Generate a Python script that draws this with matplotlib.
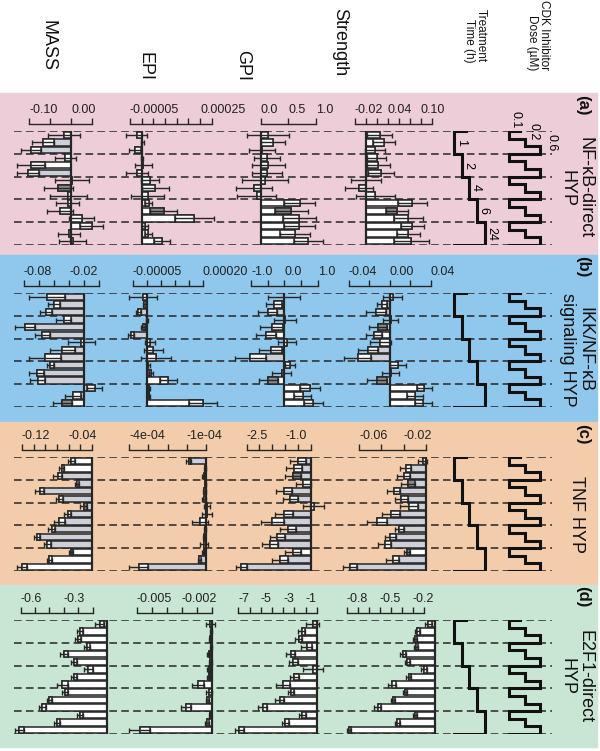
import numpy as np
import matplotlib
matplotlib.use("Agg")
import matplotlib.pyplot as plt
from matplotlib.patches import Rectangle

plt.rcParams['font.family'] = ['Liberation Sans', 'DejaVu Sans']

W, H = 600, 751

# experimental design: 5 treatment times x 3 inhibitor doses
times = [1, 1, 1, 2, 2, 2, 4, 4, 4, 6, 6, 6, 24, 24, 24]
doses = [0.1, 0.2, 0.6] * 5
time_levels = [1, 2, 4, 6, 24]
dose_levels = [0.1, 0.2, 0.6]

columns = ["MASS", "EPI", "GPI", "Strength"]
panel_names = ["NF-\u03baB-direct\nHYP", "IKK/NF-\u03baB\nsignaling HYP", "TNF HYP", "E2F1-direct\nHYP"]
panel_tags = ["(a)", "(b)", "(c)", "(d)"]
panel_colors = ["#eccdd8", "#8fc8ec", "#f3cdab", "#c9e6d4"]

# fill codes: w = white bar, g = grey bar, d = white bar/dark box, k = grey bar/dark box
# ---- (a) NF-kB-direct HYP
a_mass = [-0.016, -0.067, -0.096, -0.014, -0.096, -0.102, 0.002, -0.030, -0.006, -0.008, -0.026, 0.025, 0.049, -0.005, 0.004]
a_mass_err = [0.038, 0.026, 0.024, 0.025, 0.033, 0.026, 0.040, 0.034, 0.044, 0.028, 0.030, 0.029, 0.028, 0.027, 0.032]
a_mass_fill = "ggggwggkwwgwwwg"
a_epi = [-2.2e-5, 0.3e-5, -2.9e-5, 0.2e-5, 0.7e-5, -1.9e-5, 3.6e-5, 5.8e-5, 2.5e-5, 3.0e-5, 9.4e-5, 22.4e-5, 1.4e-5, 2.9e-5, 8.7e-5]
a_epi_err = [4.5e-5, 0.8e-5, 2.5e-5, 0.5e-5, 3.6e-5, 4.8e-5, 3.8e-5, 5.7e-5, 7.0e-5, 1.5e-5, 5.8e-5, 8.3e-5, 1.2e-5, 1.5e-5, 3.3e-5]
a_epi_fill = "gggwwgwwgwdwwww"
a_gpi = [0.14, 0.22, 0.02, 0.11, 0.14, 0.11, 0.08, -0.12, -0.07, 0.71, 0.55, 0.70, 0.70, 0.62, 0.86]
a_gpi_err = [0.38, 0.22, 0.24, 0.24, 0.30, 0.27, 0.42, 0.32, 0.35, 0.28, 0.30, 0.30, 0.28, 0.28, 0.26]
a_gpi_fill = "gwgwwwwggwdwwww"
a_str = [0.026, 0.033, 0.017, 0.020, 0.023, 0.028, 0.001, -0.012, 0.018, 0.085, 0.057, 0.078, 0.085, 0.078, 0.083]
a_str_err = [0.023, 0.020, 0.018, 0.017, 0.021, 0.023, 0.028, 0.026, 0.035, 0.026, 0.020, 0.027, 0.021, 0.021, 0.032]
a_str_fill = "gwgwwwgggwdwwww"

# ---- (b) IKK/NF-kB signaling HYP
b_mass = [-0.050, -0.040, -0.051, -0.027, -0.079, -0.056, -0.004, -0.029, -0.052, -0.045, -0.063, -0.062, 0.014, -0.015, -0.029]
b_mass_err = [0.024, 0.008, 0.008, 0.010, 0.013, 0.010, 0.018, 0.016, 0.021, 0.005, 0.010, 0.010, 0.010, 0.011, 0.013]
b_mass_fill = "ggggggwgggggggd"
b_epi = [-1.2e-5, -0.9e-5, -3.0e-5, 0.1e-5, -1.4e-5, -5.7e-5, 1.2e-5, 2.4e-5, 3.2e-5, 0.6e-5, 1.6e-5, 7.7e-5, 0.7e-5, 0.7e-5, 20.2e-5]
b_epi_err = [5.0e-5, 0.5e-5, 1.0e-5, 0.3e-5, 0.7e-5, 1.0e-5, 1.8e-5, 3.3e-5, 5.4e-5, 0.4e-5, 0.8e-5, 3.0e-5, 0.4e-5, 0.4e-5, 5.0e-5]
b_epi_fill = "gggkggwwwwwwwww"
b_gpi = [-0.02, -0.31, -0.50, 0.01, -0.38, -0.55, 0.07, -0.41, -1.02, 0.17, -0.08, -0.48, 0.78, 0.55, 0.87]
b_gpi_err = [0.48, 0.23, 0.28, 0.33, 0.35, 0.30, 0.27, 0.35, 0.47, 0.15, 0.29, 0.29, 0.30, 0.25, 0.28]
b_gpi_fill = "gggggwwggwgdwww"
b_str = [0.003, -0.007, -0.013, 0.001, -0.011, -0.015, -0.009, -0.021, -0.031, 0.008, 0.001, -0.012, 0.034, 0.025, 0.033]
b_str_err = [0.009, 0.005, 0.010, 0.007, 0.009, 0.008, 0.010, 0.010, 0.013, 0.008, 0.008, 0.010, 0.007, 0.008, 0.008]
b_str_fill = "wgggdwgggwgdwww"

# ---- (c) TNF HYP
c_mass = [-0.036, -0.052, -0.059, -0.026, -0.090, -0.056, -0.014, -0.042, -0.056, -0.069, -0.095, -0.077, -0.036, -0.073, -0.120]
c_mass_err = [0.006, 0.004, 0.008, 0.004, 0.008, 0.006, 0.006, 0.006, 0.009, 0.006, 0.005, 0.006, 0.004, 0.004, 0.008]
c_mass_fill = "wwggggkgggggdww"
c_epi = [-0.9e-4, -0.05e-4, -0.1e-4, -0.02e-4, -0.08e-4, -0.1e-4, 0.05e-4, 0.07e-4, -0.3e-4, -0.03e-4, -0.1e-4, -0.08e-4, -0.1e-4, -0.35e-4, -3.5e-4]
c_epi_err = [0.15e-4, 0.05e-4, 0.08e-4, 0.03e-4, 0.08e-4, 0.1e-4, 0.15e-4, 0.25e-4, 0.4e-4, 0.05e-4, 0.05e-4, 0.2e-4, 0.08e-4, 0.08e-4, 0.5e-4]
c_epi_fill = "kkkkggwwgkkgggg"
c_gpi = [-0.50, -0.65, -0.70, -0.30, -1.04, -0.80, 0.10, -1.04, -1.50, -0.90, -1.30, -1.58, -0.70, -1.20, -2.70]
c_gpi_err = [0.30, 0.30, 0.30, 0.30, 0.32, 0.30, 0.40, 0.35, 0.45, 0.30, 0.30, 0.30, 0.30, 0.30, 0.22]
c_gpi_fill = "ggkgggwgggggwgg"
c_str = [-0.003, -0.018, -0.020, -0.016, -0.029, -0.022, -0.015, -0.031, -0.044, -0.024, -0.032, -0.037, -0.017, -0.030, -0.068]
c_str_err = [0.004, 0.005, 0.006, 0.006, 0.006, 0.006, 0.008, 0.008, 0.009, 0.004, 0.005, 0.006, 0.003, 0.006, 0.006]
c_str_fill = "gggkggggggggdgg"

# ---- (d) E2F1-direct HYP
d_mass = [-0.05, -0.19, -0.20, -0.14, -0.30, -0.23, -0.13, -0.23, -0.31, -0.29, -0.40, -0.45, -0.19, -0.35, -0.61]
d_mass_err = [0.03, 0.02, 0.02, 0.02, 0.03, 0.02, 0.03, 0.02, 0.04, 0.02, 0.02, 0.025, 0.02, 0.02, 0.03]
d_mass_fill = "gwwwwwwwwwwwwww"
d_epi = [-0.0001, -0.00005, -0.0001, -0.00005, -0.0002, -0.0001, -0.0002, -0.0002, -0.0009, -0.0002, -0.0003, -0.0017, -0.0001, -0.0003, -0.0048]
d_epi_err = [0.0003, 0.00005, 0.00008, 0.00005, 0.0001, 0.0001, 0.0001, 0.0001, 0.0004, 0.0002, 0.0001, 0.00035, 0.00008, 0.00015, 0.0007]
d_epi_fill = "wkkwkkkkwwwwkww"
d_gpi = [-0.36, -1.34, -1.6, -0.9, -2.3, -2.1, -0.3, -2.0, -3.0, -2.3, -3.3, -4.8, -1.3, -2.8, -6.9]
d_gpi_err = [0.6, 0.3, 0.3, 0.5, 0.4, 0.4, 0.9, 0.4, 0.6, 0.3, 0.4, 0.4, 0.3, 0.3, 0.4]
d_gpi_fill = "gwwwwwwwwwwwwww"
d_str = [-0.06, -0.16, -0.18, -0.17, -0.29, -0.25, -0.10, -0.24, -0.39, -0.27, -0.38, -0.52, -0.18, -0.34, -0.78]
d_str_err = [0.03, 0.02, 0.02, 0.02, 0.025, 0.02, 0.03, 0.02, 0.04, 0.02, 0.02, 0.03, 0.02, 0.02, 0.02]
d_str_fill = "wwwwwwwwwwwwwww"

# axis ticks and labels (blank label = unlabelled tick)
a_ticks = [([-0.10, -0.05, 0.0, 0.05], ["-0.10", "", "0.00", ""]),
           ([-5e-5, 0, 5e-5, 1e-4, 1.5e-4, 2e-4, 2.5e-4, 3e-4], ["-0.00005", "", "", "", "", "", "0.00025", ""]),
           ([0.0, 0.5, 1.0], ["0.0", "0.5", "1.0"]),
           ([-0.02, 0.0, 0.02, 0.04, 0.06, 0.08, 0.10, 0.12], ["-0.02", "", "", "0.04", "", "", "0.10", ""])]
b_ticks = [([-0.08, -0.06, -0.04, -0.02, 0.0, 0.02], ["-0.08", "", "", "-0.02", "", ""]),
           ([-5e-5, 0, 5e-5, 1e-4, 1.5e-4, 2e-4], ["-0.00005", "", "", "", "", "0.00020"]),
           ([-1.0, -0.5, 0.0, 0.5, 1.0], ["-1.0", "", "0.0", "", "1.0"]),
           ([-0.04, -0.02, 0.0, 0.02, 0.04], ["-0.04", "", "0.00", "", "0.04"])]
c_ticks = [([-0.12, -0.10, -0.08, -0.06, -0.04, -0.02, 0.0], ["-0.12", "", "", "", "-0.04", "", ""]),
           ([-4e-4, -3e-4, -2e-4, -1e-4, 0], ["-4e-04", "", "", "-1e-04", ""]),
           ([-2.5, -2.0, -1.5, -1.0, -0.5, 0.0], ["-2.5", "", "", "-1.0", "", ""]),
           ([-0.06, -0.04, -0.02, 0.0], ["-0.06", "", "-0.02", ""])]
d_ticks = [([-0.6, -0.5, -0.4, -0.3, -0.2, -0.1], ["-0.6", "", "", "-0.3", "", ""]),
           ([-0.005, -0.004, -0.003, -0.002, -0.001, 0.0], ["-0.005", "", "", "-0.002", "", ""]),
           ([-7, -6, -5, -4, -3, -2, -1, 0], ["-7", "", "-5", "", "-3", "", "-1", ""]),
           ([-0.8, -0.7, -0.6, -0.5, -0.4, -0.3, -0.2, -0.1], ["-0.8", "", "", "-0.5", "", "", "-0.2", ""])]

panels = [
    [(a_mass, a_mass_err, a_mass_fill), (a_epi, a_epi_err, a_epi_fill), (a_gpi, a_gpi_err, a_gpi_fill), (a_str, a_str_err, a_str_fill)],
    [(b_mass, b_mass_err, b_mass_fill), (b_epi, b_epi_err, b_epi_fill), (b_gpi, b_gpi_err, b_gpi_fill), (b_str, b_str_err, b_str_fill)],
    [(c_mass, c_mass_err, c_mass_fill), (c_epi, c_epi_err, c_epi_fill), (c_gpi, c_gpi_err, c_gpi_fill), (c_str, c_str_err, c_str_fill)],
    [(d_mass, d_mass_err, d_mass_fill), (d_epi, d_epi_err, d_epi_fill), (d_gpi, d_gpi_err, d_gpi_fill), (d_str, d_str_err, d_str_fill)],
]
panel_ticks = [a_ticks, b_ticks, c_ticks, d_ticks]

# ---- layout (pixels)
bg_top = [93, 255, 422, 585]
bg_bot = [255, 422, 585, 747]
row_top = [131, 293, 457, 620]
row_h = 114
col_span = [(4, 124), (116, 228), (224, 336), (332, 448)]
# pixel calibration of each scale: (value, px), (value, px)
calib = [
    [((0, 71), (-0.10, 29)), ((0, 141.7), (-5e-5, 130)), ((0, 260.7), (1.0, 316)), ((0, 365.5), (-0.02, 354.5))],
    [((0, 84.3), (-0.08, 24)), ((0, 146.7), (-5e-5, 132.7)), ((0, 284.3), (-1.0, 251)), ((0, 389.5), (-0.04, 348.5))],
    [((0, 92), (-0.12, 22)), ((0, 205.8), (-4e-4, 129.3)), ((0, 311), (-2.5, 246.5)), ((0, 426), (-0.06, 359))],
    [((0, 107), (-0.6, 20.7)), ((0, 211.7), (-0.005, 136.7)), ((0, 316.7), (-7, 238.3)), ((0, 435), (-0.8, 346.7))],
]

EDGE = "#262626"
GREY = "#cdd0d8"
DARK = "#8a8a8a"
faces = {"w": ("white", "white"), "g": (GREY, "white"), "d": ("white", DARK), "k": (GREY, DARK)}

fig = plt.figure(figsize=(W / 100, H / 100), dpi=100)


def px_axes(x0, x1, y0, y1):
    return fig.add_axes([x0 / W, 1 - y1 / H, (x1 - x0) / W, (y1 - y0) / H])


def lim_from(cal, x0, x1):
    (v1, p1), (v2, p2) = cal
    k = (p2 - p1) / (v2 - v1)
    return v1 + (x0 - p1) / k, v1 + (x1 - p1) / k


def bare(ax):
    ax.patch.set_visible(False)
    for s in ax.spines.values():
        s.set_visible(False)
    ax.set_xticks([])
    ax.set_yticks([])


rows = np.arange(15) + 0.5
tidx = [time_levels.index(t) for t in times]
didx = [dose_levels.index(d) for d in doses]


def stair(idx, cap):
    xs, ys = [idx[0] + cap], [0]
    for r, i in enumerate(idx):
        xs += [i, i]
        ys += [r, r + 1]
    xs.append(idx[0])
    ys.append(len(idx))
    return xs, ys


for p in range(4):
    fig.patches.append(Rectangle((0, 1 - bg_bot[p] / H), 597 / W, (bg_bot[p] - bg_top[p]) / H,
                                 transform=fig.transFigure, color=panel_colors[p], zorder=-5))
    y0, y1 = row_top[p], row_top[p] + row_h

    # dashed group separators
    grid = px_axes(0, W, y0, y1)
    bare(grid)
    grid.set_xlim(0, W)
    grid.set_ylim(15, 0)
    grid.hlines(np.arange(0, 16, 3), 14, 552, colors=EDGE, lw=1.1, linestyles=(0, (5, 2.8)))

    for c in range(4):
        vals, errs, fill = panels[p][c]
        vals = np.array(vals)
        errs = np.array(errs)
        x0, x1 = col_span[c]
        ax = px_axes(x0, x1, y0, y1)
        ax.patch.set_visible(False)
        ax.set_xlim(*lim_from(calib[p][c], x0, x1))
        ax.set_ylim(15, 0)
        for i in range(15):
            bc, xc = faces[fill[i]]
            ax.barh(rows[i], vals[i], height=0.84, color=bc, edgecolor=EDGE, lw=1.1, zorder=2)
            span = min(errs[i], abs(vals[i]))
            ax.barh(rows[i], -np.sign(vals[i]) * span, left=vals[i], height=0.84,
                    color=xc, edgecolor=EDGE, lw=1.1, zorder=3)
        ax.errorbar(vals, rows, xerr=errs, fmt="none", ecolor=EDGE, elinewidth=1.0,
                    capsize=1.8, capthick=1.0, zorder=4)
        ax.axvline(0, color=EDGE, lw=1.6, zorder=5)

        ticks, labels = panel_ticks[p][c]
        for s in ("left", "right", "bottom"):
            ax.spines[s].set_visible(False)
        ax.spines["top"].set_position(("outward", 5))
        ax.spines["top"].set_bounds(ticks[0], ticks[-1])
        ax.spines["top"].set_linewidth(1.0)
        ax.spines["top"].set_color(EDGE)
        ax.xaxis.set_ticks_position("top")
        ax.set_xticks(ticks, labels)
        ax.set_yticks([])
        ax.tick_params(axis="x", direction="out", length=4.5, width=1.0, pad=1.5,
                       labelsize=9, color=EDGE, labelcolor="#222222")
        for t in ax.get_xticklabels():
            t.set_ha("left")

    # treatment time staircase
    tax = px_axes(440, 500, y0, y1)
    bare(tax)
    tax.set_xlim(*lim_from(((0, 454), (4, 484.8)), 440, 500))
    tax.set_ylim(15, 0)
    xs, ys = stair(tidx, 1.6)
    tax.plot(xs, ys, color="#111111", lw=2.2, solid_joinstyle="miter")

    # inhibitor dose staircase
    dax = px_axes(500, 565, y0, y1)
    bare(dax)
    dax.set_xlim(*lim_from(((0, 509), (2, 540)), 500, 565))
    dax.set_ylim(15, 0)
    xs, ys = stair(didx, 0.7)
    dax.plot(xs, ys, color="#111111", lw=2.2, solid_joinstyle="miter")

    if p == 0:
        for g, lev in enumerate(time_levels):
            tax.annotate(str(lev), (g, 3 * g + 1.5), xytext=(0.5, 0), textcoords="offset points",
                         rotation=-90, ha="left", va="center", fontsize=9)
        dose_offsets = [(0.5, 8), (2.5, 5), (4, 0)]
        dose_rows = [0, 1, 1.5]
        for k, lev in enumerate(dose_levels):
            dax.annotate(str(lev), (k, dose_rows[k]), xytext=dose_offsets[k], textcoords="offset points",
                         rotation=-90, ha="left", va="center", fontsize=9)

    fig.text(583 / W, 1 - (bg_top[p] + 12) / H, panel_tags[p], rotation=-90, ha="center",
             va="center", fontsize=12, fontweight="bold", color="#111111")
    fig.text(576 / W, 1 - (y0 + y1) / 2 / H, panel_names[p], rotation=-90, ha="center",
             va="center", fontsize=13, color="#111111", linespacing=1.0)

# column headers
head_x = [48, 145, 243, 340]
head_y = [46, 66, 66, 42]
for c, name in enumerate(columns):
    fig.text(head_x[c] / W, 1 - head_y[c] / H, name, rotation=-90, ha="center", va="center",
             fontsize=13, color="#111111")
fig.text(475 / W, 1 - 36 / H, "Treatment\nTime (h)", rotation=-90, ha="center", va="center",
         fontsize=8.5, color="#111111", linespacing=1.05, multialignment="right")
fig.text(538 / W, 1 - 35 / H, "CDK Inhibitor\nDose (\u00b5M)", rotation=-90, ha="center", va="center",
         fontsize=8.5, color="#111111", linespacing=1.05, multialignment="right")

fig.savefig("out.png", dpi=100)
